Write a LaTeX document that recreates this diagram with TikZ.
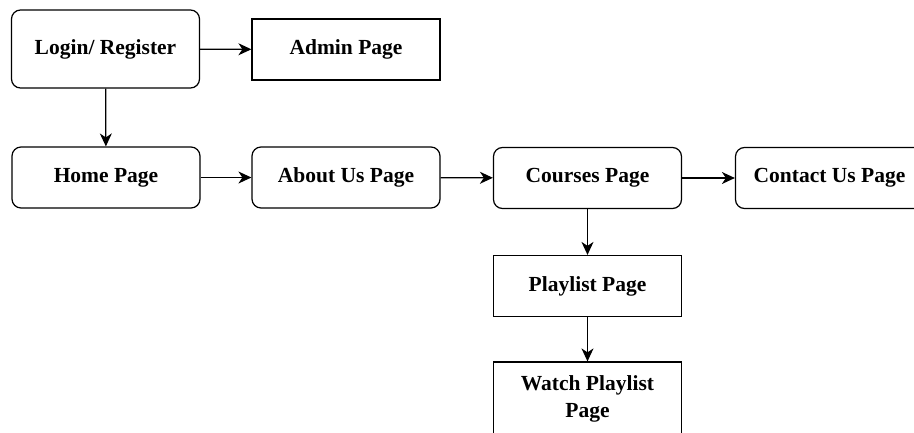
\documentclass[tikz,border=0pt]{standalone}
\usepackage{fontspec}
\setmainfont{Liberation Serif}
\usetikzlibrary{arrows.meta}

\begin{document}
\begin{tikzpicture}[x=1pt, y=-1pt,
  page/.style={draw, line width=1.2pt, minimum width=188pt, minimum height=61pt,
    inner sep=0pt, align=center, font=\fontsize{21.5}{27}\selectfont\bfseries},
  rpage/.style={page, rounded corners=9pt},
  link/.style={-{Stealth[length=13pt, width=12pt, inset=4pt]}, line width=1.3pt}]
\useasboundingbox (0,0) rectangle (914,432);

% top row
\node [rpage, minimum height=78pt] (login) at (105.5,49) {Login/ Register};
\node [page] (admin) at (346,49.5) {Admin Page};

% main row
\node [rpage] (home) at (106,177.5) {Home Page};
\node [rpage] (about) at (346,177.5) {About Us Page};
\node [rpage] (courses) at (587.5,178) {Courses Page};
\node [rpage] (contact) at (829.5,178) {Contact Us Page};

% course pages
\node [page] (playlist) at (587.5,286) {Playlist Page};
\node [page, minimum height=74pt] (watch) at (587.5,399) {Watch Playlist\\Page};

\draw [link] (login) -- (admin);
\draw [link] (login) -- (home);
\draw [link] (home) -- (about);
\draw [link] (about) -- (courses);
\draw [link] (courses) -- (contact);
\draw [link] (courses) -- (playlist);
\draw [link] (playlist) -- (watch);

\end{tikzpicture}
\end{document}
